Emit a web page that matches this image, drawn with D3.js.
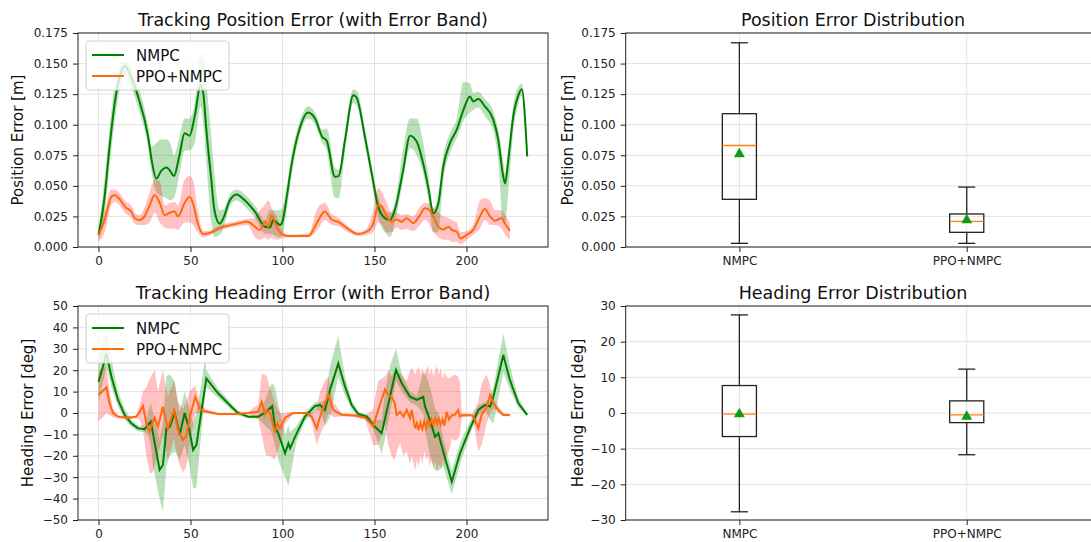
<!DOCTYPE html>
<html>
<head>
<meta charset="utf-8">
<script src="https://cdn.jsdelivr.net/npm/d3@7"></script>
<style>
  body { margin: 0; background: #fff; }
  svg { font-family: "DejaVu Sans", sans-serif; }
</style>
</head>
<body>
<svg id="chart" width="1091" height="542"></svg>
<script>
// ---- position error, NMPC ----
const nmpcPosT = [0,3.3,6,8.8,11.5,14.2,18,21.5,27,29,31.4,34,37,39,41,44,46.8,49.5,52.3,55.5,57,58.6,61.3,63,65.9,68,71.3,75,79.6,85,90.5,93.2,95,98.7,100,102.3,105,108.6,114,117.7,121.6,124,128.5,130.5,134,138.5,140.3,144.8,148.5,152,155.7,158.4,161,165.6,169.3,173,176.5,179.2,182,184.6,187.4,191,194.7,198.3,201.9,203.7,206.4,210,214.6,217.3,220,221,222.7,225.4,228.2,230,233];
const nmpcPos = [.010,.041,.082,.1175,.139,.148,.138,.123,.090,.070,.056,.062,.065,.062,.058,.075,.093,.091,.107,.1325,.125,.096,.055,.030,.019,.024,.038,.043,.038,.029,.0166,.016,.022,.018,.021,.041,.068,.093,.110,.105,.090,.087,.0575,.058,.0875,.124,.122,.090,.060,.033,.0235,.022,.030,.063,.091,.086,.068,.049,.0275,.035,.066,.085,.096,.112,.123,.119,.121,.115,.104,.0875,.0575,.052,.071,.1066,.124,.129,.074];
const nmpcPosLo = [.005,.027,.066,.102,.129,.141,.130,.114,.081,.060,.045,.042,.040,.038,.040,.060,.079,.079,.085,.115,.100,.070,.020,.008,.010,.016,.033,.038,.033,.024,.011,.011,.010,.008,.010,.030,.059,.087,.105,.100,.085,.079,.040,.040,.079,.118,.116,.084,.053,.024,.012,.008,.020,.055,.081,.075,.060,.040,.012,.012,.055,.077,.089,.103,.110,.112,.114,.107,.095,.070,.020,.020,.045,.094,.117,.124,.072];
const nmpcPosHi = [.015,.056,.097,.132,.147,.152,.146,.132,.099,.082,.085,.088,.088,.085,.075,.090,.105,.105,.118,.157,.158,.135,.090,.060,.030,.031,.043,.047,.043,.034,.022,.030,.030,.030,.032,.050,.076,.099,.115,.110,.096,.097,.065,.063,.095,.129,.128,.097,.067,.041,.030,.028,.036,.080,.105,.105,.085,.060,.032,.042,.075,.093,.105,.135,.134,.126,.127,.121,.111,.095,.070,.060,.080,.116,.131,.134,.076];

// ---- position error, PPO+NMPC ----
const ppoPosT = [0,3.3,7,8.8,11.5,15,17.8,19.7,22.4,25,27.8,30.5,33.3,36,38.7,41.4,43.2,46.8,49.5,51.3,54,56.8,59.5,65,75,81,85,87.7,90.5,92.3,94.1,96.8,99.5,103,114,119.5,123,126.7,130.3,135.8,141.2,145.7,149.3,152,154,156.6,159.3,162,164.8,167.5,171,174.7,177.4,179.2,182,184.7,187.4,190.2,192,194.7,196.8,200.1,203.7,207.3,210,212.8,215.5,219.1,221,223.6];
const ppoPos = [.0095,.022,.041,.0425,.039,.032,.029,.0235,.022,.025,.034,.0425,.036,.026,.028,.029,.025,.036,.041,.036,.019,.0106,.011,.015,.019,.0206,.0166,.014,.0207,.0166,.026,.0166,.0106,.009,.009,.022,.029,.0225,.0206,.0145,.0106,.0125,.019,.034,.033,.025,.0206,.0225,.0206,.0235,.0195,.026,.0316,.031,.025,.0166,.0143,.0166,.014,.0125,.007,.0098,.014,.025,.031,.025,.0215,.0235,.019,.0133];
const ppoPosLo = [.004,.012,.034,.037,.034,.027,.024,.019,.018,.018,.020,.028,.020,.016,.015,.015,.014,.020,.020,.018,.012,.008,.009,.013,.017,.018,.008,.006,.008,.006,.008,.006,.007,.008,.008,.015,.022,.018,.017,.012,.009,.010,.012,.020,.018,.012,.012,.016,.014,.015,.013,.018,.022,.020,.012,.008,.006,.006,.004,.004,.002,.006,.010,.015,.022,.018,.018,.015,.010,.006];
const ppoPosHi = [.015,.030,.047,.047,.044,.037,.034,.028,.026,.032,.045,.055,.054,.034,.036,.037,.034,.055,.058,.055,.030,.013,.013,.017,.021,.023,.024,.030,.035,.038,.032,.025,.015,.010,.011,.033,.036,.027,.024,.017,.012,.015,.030,.048,.045,.036,.028,.028,.026,.027,.025,.033,.036,.036,.032,.028,.025,.024,.022,.020,.012,.013,.018,.038,.040,.038,.030,.030,.026,.020];

// ---- heading error, NMPC ----
const nmpcHeadT = [0,2.4,4.3,7,10.6,14.2,17.8,21.5,25,26.9,28.4,29.6,33.2,35,36.9,38.7,41.4,43.2,44.1,46.8,49.5,51.4,53.2,56,58,58.6,65,72.2,75.8,81.4,86.8,90.5,93.2,94.4,95.9,97.7,101.4,103.2,104.1,107.7,112.2,117.7,120.4,123.1,125.8,130.3,134,137.6,141.2,145.8,149.3,153.9,155.7,158.4,161.7,164.8,169.3,173,176.5,177.4,180.2,182.9,184.7,187.4,192,196.5,201.9,206.4,210,212.8,214.6,220,223.6,228.2,233];
const nmpcHead = [14.6,21.6,27.9,17,6.1,-0.9,-4.8,-7.2,-7.6,-5.6,-4,-9.5,-26.6,-24.3,-7.2,-6.4,0,-6.4,-10.3,0,-8.4,-17.3,-15,1.2,12.7,16.2,9.2,2.9,0,-1.7,-1.7,0,2.2,3.2,-6.4,-9.5,-18.8,-14.2,-16.5,-9.5,-1.7,3.3,3.7,1.4,10.7,23.2,12.3,3.7,-0.5,-1.7,-5.6,-9.5,-2.7,7.6,20.1,13.9,7.6,6.1,7.6,3.2,-3.3,-11.1,-9.5,-18.1,-32.1,-18.8,-7.2,1.4,3.7,3,7.6,27.1,15.4,4.5,-0.9];
const nmpcHeadLo = [5,14,22,12,3,-3,-6.5,-8.5,-9,-10,-15,-25,-40,-46,-25,-20,-18,-20,-22,-15,-25,-35,-35,-8,8,12,7,1.5,-1,-2.5,-2.5,-6,-8,-10,-15,-22,-30,-34,-30,-13,-4,1,1,-6,-2,17,8,1.5,-1.5,-3,-7.5,-19,-12,0,15,10,5,3.5,0,-8,-20,-27,-27,-25,-38,-24,-10,-1,1.5,-3,-5,19,11,2.5,-1.5];
const nmpcHeadHi = [25,33,38,25,10,2,-3,-6,-6,0,5,0,-12,-5,17,18,15,5,0,10,2,-5,0,14,26,20,11.5,4.5,1,-1,-1,6,12,14,12,4,-10,-6,-9,-6,0.5,5,5,6,22,36,17,6,0.5,-0.5,-3.5,-3,10,22,30,18,10,8,19,19,12,2,0,-12,-27,-14,-4,3.5,5,7,12,37,22,7,0];

// ---- heading error, PPO+NMPC ----
const ppoHeadT = [0,2.4,4.3,6,7.9,10.6,16,20.6,22.4,24.2,26,27.8,29.1,30.5,32.3,35,37.7,41,43.2,45.9,47.7,49.5,52.6,55,57.7,65,75.8,81.4,86.8,88.7,90.5,91.4,93.2,95.9,97.3,98.6,101.4,105.9,113.2,115.9,118.6,120.4,123.1,124.9,127.6,132.1,139.4,144.9,149.3,152,155.7,157.5,159.3,161,162.1,163.9,165.7,167.5,169.3,170.2,172.1,173,174,175,176,177,178,179,180,181,182,183,184,185,186,187,188,189.2,190.5,192,193.5,195.5,196.4,197.5,203,204.6,206.4,208.2,210.9,212.8,214.6,217.3,220,223.6];
const ppoHead = [8.4,10.4,12,4.5,0,-1.7,-2.2,-1.7,0.6,3.3,-4.8,-8.7,-5,-2.2,-6.4,2.9,-7.2,1.4,-8,-12.6,-11,-2.2,7.6,2,0.8,-0.5,-0.5,0,0.6,5.3,-0.8,1.4,0,-8.7,-5,-7.2,-2.2,0,0,-1.7,-7.2,-1.7,4.5,8.4,1.4,-0.8,-1.2,-2.2,-6.1,1.4,11,8.4,7.6,4.5,-0.9,0.6,-1.7,1.4,-2.5,1.4,-7.2,-4.8,-8,-4.5,-7.5,-4,-7,-3.5,-6,-3,-5.5,-2.5,-5,-2.5,-5.5,-3,-6,0.6,-3,-1,-1,1.4,-1.7,-1,-1,-3.3,-7.2,-0.9,2.5,8.4,4.5,1.4,-0.9,-0.9];
const ppoHeadLo = [-4,-2,0,-1,-2,-2.5,-3,-2.5,-3,-8,-20,-28,-28,-25,-20,-10,-22,-12,-22,-28,-25,-15,0,0,0,-1,-1,-0.5,-3,-10,-18,-20,-20,-22,-18,-15,-5,-0.5,-0.5,-4,-15,-10,-5,0,-2,-1.5,-2,-3,-15,-15,-5,-15,-20,-22,-18,-14,-20,-18,-24,-20,-27,-22,-25,-20,-24,-18,-22,-20,-25,-22,-26,-22,-27,-24,-26,-22,-25,-20,-18,-12,-13,-12,-10,-2,-1.5,-8,-18,-15,-5,0,2,0,-1.5,-1.5];
const ppoHeadHi = [20,21,22,10,2,-1,-1.5,-1,4,10,12,16,18,20,10,20,8,15,5,2,5,10,13,5,2,0,0,0.5,4,18,18,17,12,5,2,0,0,0.5,0.5,0,2,10,15,17,5,0,-0.5,-1.5,2,15,17,20,17,20,17,19,17,15,20,21,18,20,22,18,21,17,20,22,18,21,17,20,22,18,21,16,19,17,16,17,18,17,15,0,-0.5,2,5,14,18,13,7,3,0,-0.5];

// ---- box plot stats ----
const boxLabels = ["NMPC", "PPO+NMPC"];
const posWhisLo = [0.003, 0.003];
const posQ1 = [0.039, 0.012];
const posMed = [0.083, 0.021];
const posQ3 = [0.109, 0.027];
const posWhisHi = [0.167, 0.049];
const posMean = [0.076, 0.022];
const headWhisLo = [-27.7, -11.7];
const headQ1 = [-6.6, -2.7];
const headMed = [-0.3, -0.5];
const headQ3 = [7.7, 3.4];
const headWhisHi = [27.5, 12.3];
const headMean = [-0.3, -1.0];

const lineTicks = [0, 50, 100, 150, 200];
const posTicks = [0, 0.025, 0.05, 0.075, 0.1, 0.125, 0.15, 0.175];
const headTicks = [-50, -40, -30, -20, -10, 0, 10, 20, 30, 40, 50];
const headBoxTicks = [-30, -20, -10, 0, 10, 20, 30];

const GREEN = "#008000", ORANGE = "#ff6a0d";
const svg = d3.select("#chart");

function zip(t, m, lo, hi) {
    return t.map((d, i) => ({t: d, m: m[i], lo: lo[i], hi: hi[i]}));
}

function frame(g, x0, y0, x1, y1) {
    g.append("rect").attr("x", x0).attr("y", y0)
        .attr("width", x1 - x0).attr("height", y1 - y0)
        .attr("fill", "none").attr("stroke", "#222").attr("stroke-width", 1);
}

function yAxis(g, y, ticks, fmt, x0, x1) {
    g.append("g").selectAll("line").data(ticks).enter().append("line")
        .attr("x1", x0).attr("x2", x1)
        .attr("y1", d => y(d)).attr("y2", d => y(d))
        .attr("stroke", "#e3e3e3").attr("stroke-width", 1);
    const ax = g.append("g").attr("transform", `translate(${x0},0)`)
        .call(d3.axisLeft(y).tickValues(ticks).tickFormat(fmt).tickSize(5).tickPadding(5));
    ax.select(".domain").remove();
    ax.selectAll("line").attr("stroke", "#222");
    ax.selectAll("text").attr("font-size", 12).attr("fill", "#222")
        .attr("font-family", "DejaVu Sans");
}

function xAxis(g, x, ticks, fmt, y0, y1) {
    g.append("g").selectAll("line").data(ticks).enter().append("line")
        .attr("y1", y0).attr("y2", y1)
        .attr("x1", d => x(d)).attr("x2", d => x(d))
        .attr("stroke", "#e3e3e3").attr("stroke-width", 1);
    const ax = g.append("g").attr("transform", `translate(0,${y1})`)
        .call(d3.axisBottom(x).tickValues(ticks).tickFormat(fmt).tickSize(5).tickPadding(4));
    ax.select(".domain").remove();
    ax.selectAll("line").attr("stroke", "#222");
    ax.selectAll("text").attr("font-size", 12).attr("fill", "#222")
        .attr("font-family", "DejaVu Sans");
}

function title(text, cx, y) {
    svg.append("text").text(text).attr("x", cx).attr("y", y)
        .attr("text-anchor", "middle").attr("font-size", 17.5).attr("fill", "#111");
}

function yLabel(text, x, cy) {
    svg.append("text").text(text)
        .attr("transform", `translate(${x},${cy}) rotate(-90)`)
        .attr("text-anchor", "middle").attr("font-size", 15).attr("fill", "#111");
}

function linePanel(top, bottom, yDomain, ticks, fmt, nm, pp, smooth, ttl, lbl) {
    const x = d3.scaleLinear().domain([-11.15, 244.3]).range([78, 548]);
    const y = d3.scaleLinear().domain(yDomain).range([bottom, top]);
    const g = svg.append("g");
    yAxis(g, y, ticks, fmt, 78, 548);
    xAxis(g, x, lineTicks, d3.format("d"), top, bottom);

    const curve = smooth ? d3.curveMonotoneX : d3.curveLinear;
    const area = d3.area().x(d => x(d.t)).y0(d => y(d.lo)).y1(d => y(d.hi)).curve(curve);
    const line = d3.line().x(d => x(d.t)).y(d => y(d.m)).curve(curve);

    g.append("path").datum(nm).attr("d", area).attr("fill", "#2ca02c").attr("fill-opacity", 0.33);
    g.append("path").datum(pp).attr("d", area).attr("fill", "#ff1a1a").attr("fill-opacity", 0.27);
    g.append("path").datum(nm).attr("d", line).attr("fill", "none")
        .attr("stroke", GREEN).attr("stroke-width", 2);
    g.append("path").datum(pp).attr("d", line).attr("fill", "none")
        .attr("stroke", ORANGE).attr("stroke-width", 2);

    frame(g, 78, top, 548, bottom);

    // legend
    const lg = g.append("g").attr("transform", `translate(86,${top + 8})`);
    lg.append("rect").attr("width", 143).attr("height", 49).attr("rx", 3)
        .attr("fill", "#fff").attr("fill-opacity", 0.8)
        .attr("stroke", "#d0d0d0").attr("stroke-width", 1);
    [["NMPC", GREEN, 14], ["PPO+NMPC", ORANGE, 35]].forEach(([name, c, yy]) => {
        lg.append("line").attr("x1", 6).attr("x2", 38).attr("y1", yy).attr("y2", yy)
            .attr("stroke", c).attr("stroke-width", 2);
        lg.append("text").text(name).attr("x", 50).attr("y", yy + 5.5)
            .attr("font-size", 15).attr("fill", "#111");
    });

    title(ttl, 313, top - 7);
    yLabel(lbl, lbl.startsWith("Heading") ? 33 : 23, (top + bottom) / 2);
}

function boxPanel(top, bottom, yDomain, ticks, fmt, stats, ttl, lbl, lblX) {
    const x = d3.scaleLinear().domain([0.5, 2.5]).range([625.7, 1080.4]);
    const y = d3.scaleLinear().domain(yDomain).range([bottom, top]);
    const g = svg.append("g");
    yAxis(g, y, ticks, fmt, 625.7, 1100);
    xAxis(g, x, [1, 2], d => boxLabels[d - 1], top, bottom);

    const w = 0.15;
    boxLabels.forEach((name, i) => {
        const p = i + 1;
        const s = k => stats[k][i];
        // whiskers
        g.append("line").attr("x1", x(p)).attr("x2", x(p))
            .attr("y1", y(s("q3"))).attr("y2", y(s("hi"))).attr("stroke", "#222").attr("stroke-width", 1.3);
        g.append("line").attr("x1", x(p)).attr("x2", x(p))
            .attr("y1", y(s("q1"))).attr("y2", y(s("lo"))).attr("stroke", "#222").attr("stroke-width", 1.3);
        ["hi", "lo"].forEach(k => {
            g.append("line").attr("x1", x(p - w / 4)).attr("x2", x(p + w / 4))
                .attr("y1", y(s(k))).attr("y2", y(s(k))).attr("stroke", "#222").attr("stroke-width", 1.3);
        });
        g.append("rect").attr("x", x(p - w / 2)).attr("width", x(p + w / 2) - x(p - w / 2))
            .attr("y", y(s("q3"))).attr("height", y(s("q1")) - y(s("q3")))
            .attr("fill", "none").attr("stroke", "#222").attr("stroke-width", 1.3);
        g.append("line").attr("x1", x(p - w / 2)).attr("x2", x(p + w / 2))
            .attr("y1", y(s("med"))).attr("y2", y(s("med")))
            .attr("stroke", "#ff7f0e").attr("stroke-width", 1.3);
        g.append("path").attr("d", d3.symbol(d3.symbolTriangle, 52)())
            .attr("transform", `translate(${x(p)},${y(s("mean"))})`)
            .attr("fill", "#129a12");
    });

    frame(g, 625.7, top, 1100, bottom);
    title(ttl, 853, top - 7);
    yLabel(lbl, lblX, (top + bottom) / 2);
}

linePanel(33, 247, [0, 0.175], posTicks, d3.format(".3f"),
    zip(nmpcPosT, nmpcPos, nmpcPosLo, nmpcPosHi),
    zip(ppoPosT, ppoPos, ppoPosLo, ppoPosHi), true,
    "Tracking Position Error (with Error Band)", "Position Error [m]");

linePanel(306, 520, [-50, 50], headTicks, d3.format("d"),
    zip(nmpcHeadT, nmpcHead, nmpcHeadLo, nmpcHeadHi),
    zip(ppoHeadT, ppoHead, ppoHeadLo, ppoHeadHi), false,
    "Tracking Heading Error (with Error Band)", "Heading Error [deg]");

boxPanel(33, 247, [0, 0.175], posTicks, d3.format(".3f"),
    {lo: posWhisLo, q1: posQ1, med: posMed, q3: posQ3, hi: posWhisHi, mean: posMean},
    "Position Error Distribution", "Position Error [m]", 573);

boxPanel(306, 520, [-30, 30], headBoxTicks, d3.format("d"),
    {lo: headWhisLo, q1: headQ1, med: headMed, q3: headQ3, hi: headWhisHi, mean: headMean},
    "Heading Error Distribution", "Heading Error [deg]", 583);
</script>
</body>
</html>
